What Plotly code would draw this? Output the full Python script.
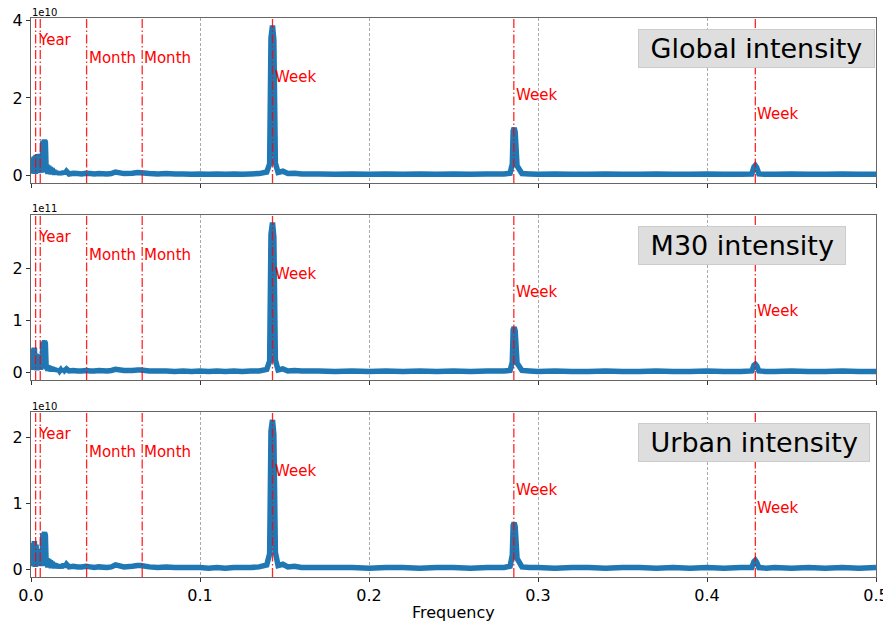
import plotly.graph_objects as go

# ---------------- data ----------------
freq_low = [0.0, 0.0005, 0.001, 0.0015, 0.002, 0.0025, 0.003, 0.0035, 0.004, 0.0045,
            0.005, 0.0055, 0.006, 0.0065, 0.007, 0.0075, 0.008, 0.0085, 0.009, 0.0095,
            0.01, 0.0105, 0.011, 0.0115, 0.012, 0.0125, 0.013, 0.0135, 0.014, 0.0145,
            0.015, 0.0155, 0.016, 0.0165, 0.017, 0.0175, 0.018, 0.0185, 0.019, 0.0195, 0.02]

global_low = [0.42, 0.05, 0.46, 0.08, 0.49, 0.04, 0.53, 0.10, 0.55, 0.06,
              0.56, 0.12, 0.48, 0.07, 0.88, 0.86, 0.91, 0.86, 0.10, 0.28,
              0.04, 0.25, 0.06, 0.22, 0.03, 0.19, 0.05, 0.15, 0.02, 0.12,
              0.04, 0.10, 0.03, 0.09, 0.02, 0.08, 0.03, 0.10, 0.04, 0.12, 0.05]
m30_low = [0.40, 0.05, 0.46, 0.08, 0.48, 0.06, 0.36, 0.04, 0.35, 0.09,
           0.33, 0.05, 0.32, 0.08, 0.58, 0.57, 0.60, 0.56, 0.06, 0.14,
           0.03, 0.13, 0.05, 0.11, 0.02, 0.10, 0.04, 0.09, 0.02, 0.07,
           0.03, 0.06, 0.02, 0.06, 0.03, 0.05, 0.02, 0.06, 0.03, 0.07, 0.04]
urban_low = [0.34, 0.05, 0.40, 0.07, 0.43, 0.04, 0.38, 0.06, 0.30, 0.05,
             0.29, 0.08, 0.31, 0.05, 0.54, 0.53, 0.56, 0.52, 0.06, 0.17,
             0.03, 0.16, 0.05, 0.14, 0.02, 0.12, 0.04, 0.10, 0.02, 0.09,
             0.03, 0.08, 0.02, 0.07, 0.03, 0.07, 0.02, 0.08, 0.03, 0.09, 0.04]

freq_high = [0.021, 0.0225, 0.025, 0.0275, 0.03, 0.0325, 0.035, 0.0375, 0.04, 0.045,
             0.0475, 0.05, 0.055, 0.06, 0.063, 0.065, 0.07, 0.075, 0.08, 0.085,
             0.09, 0.095, 0.1, 0.105, 0.11, 0.115, 0.12, 0.125, 0.13, 0.135,
             0.1395, 0.1412, 0.142, 0.1429, 0.1437, 0.1446, 0.1462, 0.149, 0.152, 0.156,
             0.16, 0.17, 0.18, 0.19, 0.2, 0.21, 0.22, 0.23, 0.24, 0.25,
             0.26, 0.27, 0.28, 0.2835, 0.2848, 0.2853, 0.2859, 0.2865, 0.2876, 0.2905,
             0.295, 0.3, 0.31, 0.32, 0.33, 0.34, 0.35, 0.36, 0.37, 0.38,
             0.39, 0.4, 0.41, 0.42, 0.4265, 0.4278, 0.4286, 0.4294, 0.4307, 0.435,
             0.44, 0.45, 0.46, 0.47, 0.48, 0.49, 0.5]

global_high = [0.11, 0.04, 0.06, 0.05, 0.04, 0.06, 0.05, 0.04, 0.05, 0.04,
               0.05, 0.09, 0.05, 0.06, 0.08, 0.07, 0.05, 0.04, 0.05, 0.04,
               0.04, 0.03, 0.04, 0.03, 0.04, 0.03, 0.04, 0.03, 0.04, 0.05,
               0.09, 0.30, 3.55, 3.87, 3.50, 0.32, 0.08, 0.11, 0.05, 0.06,
               0.04, 0.04, 0.03, 0.04, 0.03, 0.04, 0.03, 0.04, 0.03, 0.04,
               0.03, 0.04, 0.04, 0.06, 0.30, 1.15, 1.23, 1.12, 0.25, 0.05,
               0.04, 0.03, 0.04, 0.03, 0.03, 0.04, 0.03, 0.03, 0.04, 0.03,
               0.03, 0.04, 0.03, 0.03, 0.04, 0.22, 0.26, 0.21, 0.04, 0.03,
               0.03, 0.04, 0.03, 0.03, 0.04, 0.03, 0.03]
m30_high = [0.07, 0.03, 0.04, 0.03, 0.03, 0.04, 0.03, 0.03, 0.04, 0.03,
            0.04, 0.06, 0.04, 0.04, 0.05, 0.05, 0.03, 0.03, 0.03, 0.02,
            0.03, 0.02, 0.03, 0.02, 0.03, 0.02, 0.03, 0.02, 0.03, 0.03,
            0.06, 0.22, 2.65, 2.88, 2.60, 0.24, 0.05, 0.07, 0.03, 0.04,
            0.03, 0.03, 0.02, 0.03, 0.02, 0.03, 0.02, 0.03, 0.02, 0.03,
            0.02, 0.03, 0.03, 0.04, 0.20, 0.82, 0.87, 0.80, 0.18, 0.04,
            0.03, 0.02, 0.03, 0.02, 0.02, 0.03, 0.02, 0.02, 0.03, 0.02,
            0.02, 0.03, 0.02, 0.02, 0.03, 0.14, 0.16, 0.13, 0.03, 0.02,
            0.02, 0.03, 0.02, 0.02, 0.03, 0.02, 0.02]
urban_high = [0.08, 0.04, 0.05, 0.04, 0.04, 0.05, 0.04, 0.03, 0.04, 0.03,
              0.04, 0.07, 0.04, 0.05, 0.06, 0.06, 0.04, 0.03, 0.04, 0.03,
              0.03, 0.03, 0.03, 0.02, 0.03, 0.02, 0.03, 0.03, 0.03, 0.04,
              0.07, 0.24, 2.10, 2.27, 2.05, 0.26, 0.06, 0.08, 0.04, 0.05,
              0.03, 0.03, 0.03, 0.03, 0.02, 0.03, 0.03, 0.02, 0.03, 0.03,
              0.02, 0.03, 0.03, 0.05, 0.22, 0.67, 0.71, 0.65, 0.17, 0.04,
              0.03, 0.03, 0.02, 0.03, 0.03, 0.02, 0.03, 0.03, 0.02, 0.03,
              0.02, 0.03, 0.02, 0.03, 0.03, 0.12, 0.14, 0.11, 0.03, 0.02,
              0.03, 0.02, 0.03, 0.02, 0.03, 0.02, 0.03]

panel_names = ["Global intensity", "M30 intensity", "Urban intensity"]
panel_scales = ["1e10", "1e11", "1e10"]
panel_yticks = [[0, 2, 4], [0, 1, 2], [0, 1, 2]]

marker_freqs = [0.00274, 0.00548, 0.0329, 0.0658, 0.1429, 0.2857, 0.4286]
label_names = ["Year", "Month", "Month", "Week", "Week", "Week"]
label_freqs = [0.00274, 0.0329, 0.0658, 0.1429, 0.2857, 0.4286]
label_levels = [0.905, 0.785, 0.785, 0.66, 0.535, 0.41]

x_ticks = [0.0, 0.1, 0.2, 0.3, 0.4, 0.5]
x_ticktext = ["0.0", "0.1", "0.2", "0.3", "0.4", "0.5"]

# ---------------- figure ----------------
freq = freq_low + freq_high
series = [global_low + global_high, m30_low + m30_high, urban_low + urban_high]

FONT = "DejaVu Sans"
domains = [[0.7048, 1.0], [0.3524, 0.6476], [0.0, 0.2943]]
spine = "#666666"

fig = go.Figure()
shapes = []
annotations = []
layout = {}

for i, vals in enumerate(series):
    n = i + 1
    xa = "x" if n == 1 else f"x{n}"
    ya = "y" if n == 1 else f"y{n}"
    fig.add_trace(go.Scatter(x=freq, y=vals, mode="lines",
                             line=dict(color="#1f77b4", width=5.5, simplify=False),
                             xaxis=xa, yaxis=ya, showlegend=False,
                             hoverinfo="skip"))
    m = max(vals)
    yr = [-0.05 * m, 1.05 * m]
    layout[f"xaxis{n}" if n > 1 else "xaxis"] = dict(
        domain=[0, 1], range=[0, 0.5], anchor=ya, automargin=False,
        tickvals=x_ticks, ticktext=x_ticktext, showticklabels=(n == 3),
        ticks="outside", ticklen=4, tickcolor="#333333",
        showgrid=True, gridcolor="#aaaaaa", griddash="3px,2px", gridwidth=0.8,
        showline=True, linecolor=spine, linewidth=1.2, mirror=True,
        zeroline=False, tickfont=dict(family=FONT, size=16, color="black"),
    )
    layout[f"yaxis{n}" if n > 1 else "yaxis"] = dict(
        domain=domains[i], range=yr, anchor=xa, automargin=False,
        tickvals=panel_yticks[i], ticktext=[str(t) for t in panel_yticks[i]],
        ticks="outside", ticklen=4, tickcolor="#333333",
        showgrid=False, zeroline=False,
        showline=True, linecolor=spine, linewidth=1.2, mirror=True,
        tickfont=dict(family=FONT, size=16, color="black"),
    )
    # marker lines
    for f in marker_freqs:
        shapes.append(dict(type="line", xref=xa, yref=f"{ya} domain",
                           x0=f, x1=f, y0=0, y1=1,
                           line=dict(color="rgba(255,0,0,0.85)", width=1.3,
                                     dash="9px,2.5px,1.5px,2.5px")))
    # marker labels
    for name, f, lev in zip(label_names, label_freqs, label_levels):
        annotations.append(dict(text=name, x=f, y=lev * m, xref=xa, yref=ya,
                                xanchor="left", yanchor="middle", showarrow=False,
                                font=dict(family=FONT, size=15, color="red")))
    # scale label
    annotations.append(dict(text=panel_scales[i], x=0, y=1, xref=f"{xa} domain",
                            yref=f"{ya} domain", xanchor="left", yanchor="middle",
                            showarrow=False, yshift=6, borderpad=0,
                            font=dict(family=FONT, size=10, color="black")))
    # panel title box
    annotations.append(dict(text="&nbsp;" + panel_names[i] + "&nbsp;", x=0.7183, y=0.935,
                            xref=f"{xa} domain", yref=f"{ya} domain",
                            xanchor="left", yanchor="top", showarrow=False,
                            bgcolor="#dedede", bordercolor="#cccccc", borderwidth=1,
                            borderpad=3,
                            font=dict(family=FONT, size=27, color="black")))

# x-axis title
annotations.append(dict(text="Frequency", x=0.5, y=0, xref="paper", yref="paper",
                        xanchor="center", yanchor="middle", yshift=-35,
                        showarrow=False,
                        font=dict(family=FONT, size=16, color="black")))

# the page body adds an 8px offset, so the figure is sized to end at the window edge
fig.update_layout(
    width=883, height=616,
    margin=dict(l=23, r=15, t=10, b=47),
    paper_bgcolor="white", plot_bgcolor="white",
    font=dict(family=FONT, size=16, color="black"),
    shapes=shapes, annotations=annotations, **layout,
)

fig.write_html("out.html")
